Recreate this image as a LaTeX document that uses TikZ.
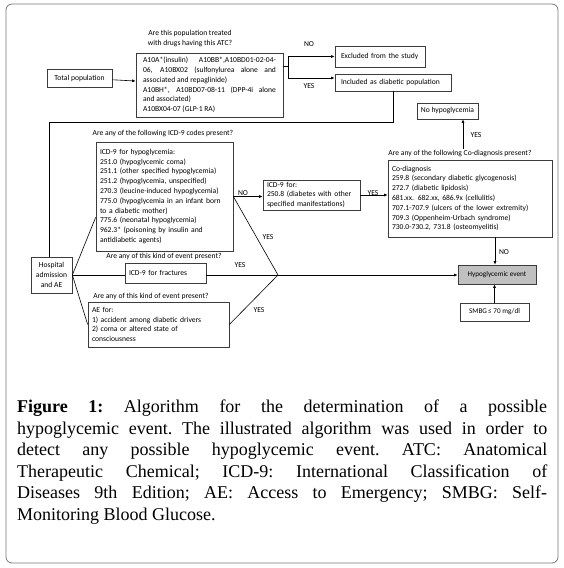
\documentclass[tikz,border=0pt]{standalone}
\usepackage{fontspec}
\setmainfont{Liberation Serif}
\newfontfamily\chartfont{Carlito}
\usepackage{xcolor}
\definecolor{framegray}{RGB}{120,120,120}
\definecolor{boxgray}{RGB}{60,60,60}
\definecolor{eventgray}{RGB}{192,192,192}
\usetikzlibrary{arrows.meta, positioning, calc}
\tikzset{
  flowbox/.style={draw=boxgray, line width=0.7pt, fill=white, inner ysep=0pt, inner xsep=4pt,
                  font=\chartfont\fontsize{7.6}{9.8}\selectfont},
  question/.style={font=\chartfont\fontsize{7.6}{9.8}\selectfont, align=center, inner sep=0pt},
  answer/.style={font=\chartfont\fontsize{7.6}{9.8}\selectfont, inner sep=0pt},
  link/.style={line width=0.6pt, black},
  flowarrow/.style={link, -{Latex[length=3.5pt,width=3pt]}}
}

\begin{document}
\begin{tikzpicture}[x=1pt, y=-1pt]
      \useasboundingbox (0,0) rectangle (563,568);
      % Frame round the figure
      \draw[framegray, line width=0.8pt, rounded corners=6pt] (6,4) rectangle (558,563);
      % Drug selection at top
      \node[flowbox, minimum width=65pt, minimum height=18pt] (tot) at (79.5,78) {Total population};
      \node[question] (atcq) at (190,38.5) {Are this population treated\\with drugs having this ATC?};
      \node[flowbox, inner xsep=7pt, text width=133pt, minimum height=64pt, align=justify]
            (atc) at (209.5,85)
            {A10A*(insulin) A10BB*,A10BD01-02-04-\linebreak
             06, A10BX02 (sulfonylurea alone and\linebreak
             associated and repaglinide)\\
             A10BH*, A10BD07-08-11 (DPP-4i alone\linebreak
             and associated)\\
             A10BX04-07 (GLP-1 RA)};
      \node[flowbox, inner xsep=6pt, text width=78pt, minimum height=21pt, align=left]
            (excl) at (380,56.5) {Excluded from the study};
      \node[flowbox, inner xsep=6pt, text width=104pt, minimum height=17pt, align=left]
            (incl) at (393,82.5) {Included as diabetic population};
      \coordinate (fork) at (288,66);
      \draw[link] (atc.east |- fork) -- (fork);
      \draw[flowarrow] (fork) |- (excl.west);
      \draw[flowarrow] (fork) |- (incl.west |- 0,78);
      \node[answer] (atcno) at (309,44) {NO};
      \node[answer] (atcyes) at (309,86) {YES};
      \draw[flowarrow] (tot) -- (atc);
      % Hospital admission and the three checks
      \node[flowbox, align=center, minimum width=41pt, minimum height=36pt, inner xsep=0pt]
            (hosp) at (51.5,275) {Hospital\\admission\\and AE};
      \coordinate (loop) at (49,122);
      \draw[link] (incl.south) |- (loop) -- (loop |- hosp.north);
      \node[question] (icdq) at (163,134) {Are any of the following ICD-9 codes present?};
      \node[flowbox, text width=129pt, minimum height=109pt, align=left]
            (icd) at (164.5,196.5)
            {ICD-9 for hypoglycemia:\\
             251.0 (hypoglycemic coma)\\
             251.1 (other specified hypoglycemia)\\
             251.2 (hypoglycemia, unspecified)\\
             270.3 (leucine-induced hypoglycemia)\\
             775.0 (hypoglycemia in an infant born\\
             to a diabetic mother)\\
             775.6 (neonatal hypoglycemia)\\
             962.3* (poisoning by insulin and\\
             antidiabetic agents)};
      \node[question] (fracq) at (164,256) {Are any of this kind of event present?};
      \node[flowbox, text width=73pt, minimum height=20pt, align=left]
            (frac) at (165.5,273) {ICD-9 for fractures};
      \node[question] (aeq) at (151,296.5) {Are any of this kind of event present?};
      \node[flowbox, text width=133pt, minimum height=45pt, align=left]
            (ae) at (158.5,324.5)
            {AE for:\\
             1) accident among diabetic drivers\\
             2) coma or altered state of\\
             consciousness};
      \draw[link] (hosp.east) -- ([yshift=34pt]icd.south west);
      \draw[link] (hosp.east) -- (hosp.east -| frac.west);
      \draw[link] (hosp.east) -- (ae.west);
      % Where the YES branches meet
      \coordinate (merge) at (278,275);
      \draw[link] (icd.east) -- (merge);
      \draw[link] (hosp.east -| frac.east) -- (merge);
      \draw[link] (ae.east) -- (merge);
      \node[answer] (icdyes) at (268,237) {YES};
      \node[answer] (fracyes) at (240,265) {YES};
      \node[answer] (aeyes) at (259,310) {YES};
      % Other diabetes codes and co-diagnosis
      \node[flowbox, text width=89pt, minimum height=30pt, align=left]
            (dia) at (311.5,195)
            {ICD-9 for:\\
             250.8 (diabetes with other\\
             specified manifestations)};
      \draw[flowarrow] (icd.east) -- (icd.east -| dia.west);
      \node[answer] (icdno) at (243,193) {NO};
      \node[question] (codq) at (460,154) {Are any of the following Co-diagnosis present?};
      \node[flowbox, text width=156pt, minimum height=77pt, align=left]
            (cod) at (470,198.5)
            {Co-diagnosis\\
             259.8 (secondary diabetic glycogenosis)\\
             272.7 (diabetic lipidosis)\\
             681.xx. 682.xx, 686.9x (cellulitis)\\
             707.1-707.9 (ulcers of the lower extremity)\\
             709.3 (Oppenheim-Urbach syndrome)\\
             730.0-730.2, 731.8 (osteomyelitis)};
      \draw[flowarrow] (dia.east) -- (dia.east -| cod.west);
      \node[answer] (diayes) at (373,193) {YES};
      % Outcomes
      \node[flowbox, minimum width=59pt, minimum height=16pt] (nohyp) at (447.5,111) {No hypoglycemia};
      \node[flowbox, fill=eventgray, minimum width=78pt, minimum height=19pt,
            font=\chartfont\fontsize{7.2}{9}\selectfont] (hyp) at (497,274.5) {Hypoglycemic event};
      \node[flowbox, minimum width=69pt, minimum height=18pt,
            font=\chartfont\fontsize{7.2}{9}\selectfont] (smbg) at (494.5,312) {SMBG\,≤ 70 mg/dl};
      \draw[flowarrow] ([xshift=3pt,yshift=2pt]codq.north) -- ([xshift=3pt]codq.north |- nohyp.south);
      \node[answer] (codyes) at (476,135) {YES};
      \draw[flowarrow] ([xshift=25pt]cod.south) -- ([xshift=25pt]cod.south |- hyp.north);
      \node[answer] (codno) at (504,252) {NO};
      \draw[flowarrow] (merge) -- (merge -| hyp.west);
      \draw[flowarrow] (smbg.north) -- (smbg.north |- hyp.south);
      % Caption
      \node[anchor=north west, inner sep=0pt, text width=530pt, align=justify,
            font=\fontsize{18}{21.5}\selectfont\frenchspacing] (cap) at (17,400)
            {\textbf{Figure 1:} Algorithm for the determination of a possible\linebreak
             hypoglycemic event. The illustrated algorithm was used in order to\linebreak
             detect any possible hypoglycemic event. ATC: Anatomical\linebreak
             Therapeutic Chemical; ICD-9: International Classification of\linebreak
             Diseases 9th Edition; AE: Access to Emergency; SMBG: Self-\linebreak
             Monitoring Blood Glucose.};
\end{tikzpicture}
\end{document}
